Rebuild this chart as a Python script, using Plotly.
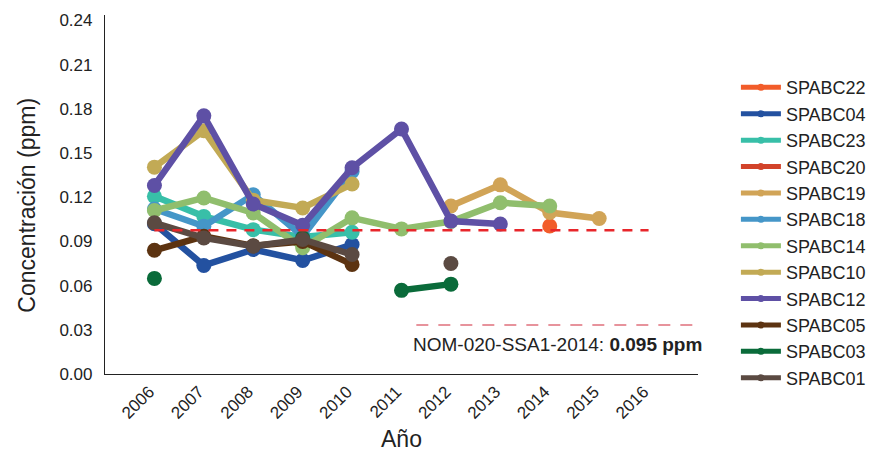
import plotly.graph_objects as go

years = [2006, 2007, 2008, 2009, 2010, 2011, 2012, 2013, 2014, 2015]
N = None

stations = ["SPABC22", "SPABC04", "SPABC23", "SPABC20", "SPABC19", "SPABC18",
            "SPABC14", "SPABC10", "SPABC12", "SPABC05", "SPABC03", "SPABC01"]

spabc22 = [N, N, N, N, N, N, N, N, 0.1005, N]
spabc04 = [0.102, 0.0737, 0.0845, 0.0771, 0.0879, N, N, N, N, N]
spabc23 = [0.1206, 0.107, 0.098, 0.0930, 0.0962, N, N, N, N, N]
spabc20 = [N, N, N, N, N, N, N, N, N, N]
spabc19 = [N, N, N, N, N, N, 0.114, 0.1284, 0.1096, 0.1056]
spabc18 = [0.112, 0.1003, 0.1217, 0.0935, 0.1375, N, N, N, N, N]
spabc14 = [0.111, 0.1195, 0.1093, 0.0857, 0.106, 0.0985, 0.1035, 0.1163, 0.114, N]
spabc10 = [0.1404, 0.1652, 0.118, 0.1127, 0.129, N, N, N, N, N]
spabc12 = [0.128, 0.1753, 0.1154, 0.101, 0.140, 0.1663, 0.1038, 0.1018, N, N]
spabc05 = [0.084, 0.0935, 0.087, 0.090, 0.0744, N, N, N, N, N]
spabc03 = [0.0649, N, N, 0.0924, N, 0.0568, 0.061, N, N, N]
spabc01 = [0.1026, 0.0924, 0.0868, 0.0913, 0.0811, N, 0.075, N, N, N]

series = [spabc22, spabc04, spabc23, spabc20, spabc19, spabc18,
          spabc14, spabc10, spabc12, spabc05, spabc03, spabc01]
colors = ["#F25C2A", "#2351A0", "#38BFA8", "#D2432A", "#D1A457", "#4596C8",
          "#90BE6D", "#C2AA55", "#5E50A5", "#5C3311", "#0A6B3A", "#5B4A42"]

norm_years = [2006, 2016]
norm_value = [0.0975, 0.0975]
norm_label = "NOM-020-SSA1-2014: <b>0.095 ppm</b>"

x_ticks = list(range(2006, 2017))
y_ticks = [0.0, 0.03, 0.06, 0.09, 0.12, 0.15, 0.18, 0.21, 0.24]

FONT = "Liberation Sans, Arial, sans-serif"

fig = go.Figure()
for name, vals, col in zip(stations, series, colors):
    fig.add_trace(go.Scatter(
        x=years, y=vals, name=name, mode="lines+markers",
        line=dict(color=col, width=6.5), marker=dict(color=col, size=15),
        connectgaps=False, legendgroup=name, showlegend=False,
    ))

fig.add_trace(go.Scatter(
    x=norm_years, y=norm_value, mode="lines", showlegend=False,
    line=dict(color="#E8262B", width=2.5, dash="10px,8px"), hoverinfo="skip",
))

# legend entries (thin line + small marker, as in the reference legend)
for name, col in zip(stations, colors):
    fig.add_trace(go.Scatter(
        x=[None], y=[None], name=name, mode="lines+markers",
        line=dict(color=col, width=5), marker=dict(color=col, size=7),
        legendgroup=name, showlegend=True,
    ))

fig.add_shape(type="line", xref="paper", yref="paper", x0=0.525, x1=1.0,
              y0=0.1365, y1=0.1365, line=dict(color="#D0283A", width=1.2, dash="12px,10px"))
fig.add_annotation(xref="paper", yref="paper", x=1.01, y=0.117, xanchor="right",
                   yanchor="top", text=norm_label, showarrow=False,
                   font=dict(family=FONT, size=19, color="#222222"))

fig.add_annotation(xref="paper", yref="paper", x=-0.1315, y=0.469, xanchor="center",
                   yanchor="middle", text="Concentración (ppm)", textangle=-90,
                   showarrow=False, font=dict(family=FONT, size=23, color="#222222"))

fig.update_layout(
    width=874, height=452,
    margin=dict(l=105, r=176, t=15, b=78, autoexpand=False),
    paper_bgcolor="white", plot_bgcolor="white",
    font=dict(family=FONT, color="#222222"),
    showlegend=True,
    legend=dict(xref="container", yref="container", x=0.842, y=0.847,
                xanchor="left", yanchor="top", maxheight=380,
                font=dict(size=18, color="#222222"), tracegroupgap=0,
                itemwidth=40, bgcolor="rgba(0,0,0,0)"),
    xaxis=dict(range=[2005, 2017], tickvals=x_ticks, ticktext=[str(t) for t in x_ticks],
               tickangle=-45, tickfont=dict(size=17), showgrid=False, zeroline=False,
               showline=True, linecolor="#222222", linewidth=1.2, ticks="",
               ticklabelshift=-5, automargin=False,
               title=dict(text="Año", font=dict(size=23), standoff=16)),
    yaxis=dict(range=[0, 0.2437], tickvals=y_ticks, ticktext=[f"{v:.2f}" for v in y_ticks],
               tickfont=dict(size=17), showgrid=False, zeroline=False,
               showline=True, linecolor="#222222", linewidth=1.2, ticks="",
               ticklabelstandoff=8, automargin=False),
)

fig.write_html("out.html")
